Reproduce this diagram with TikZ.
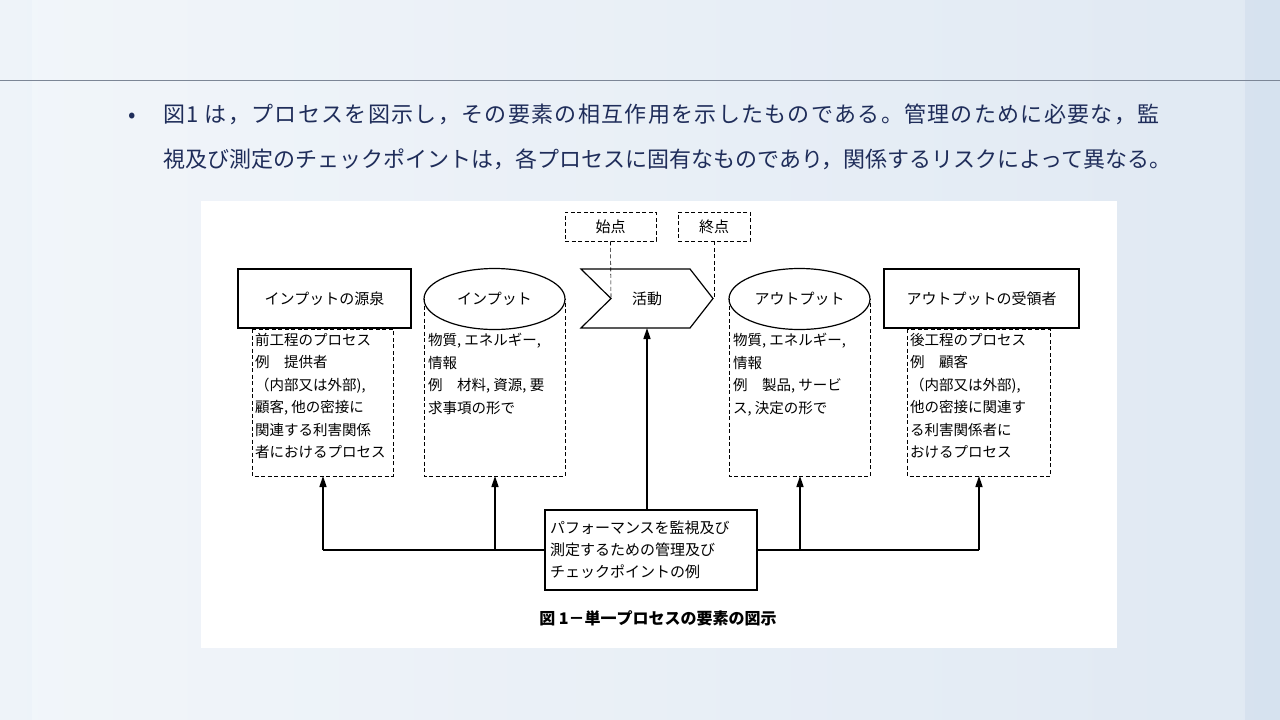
\documentclass[tikz,border=0pt]{standalone}
\usepackage{fontspec}
\setmainfont{Noto Sans CJK JP}
\usetikzlibrary{shapes.geometric,arrows.meta}
\definecolor{bgl}{HTML}{EEF3F9}
\definecolor{bgr}{HTML}{D6E2EF}
\definecolor{navy}{HTML}{1F2D5A}
\definecolor{rule}{HTML}{7C8696}
\begin{document}
\begin{tikzpicture}[x=1pt,y=-1pt,
  thickbox/.style={draw,line width=1.8pt},
  dbox/.style={draw,dashed,line width=0.6pt,dash pattern=on 4pt off 2.5pt},
  lbl/.style={font=\fontsize{15}{15}\selectfont,inner sep=0},
  coltext/.style={font=\fontsize{14.5}{22.5}\selectfont,align=left,anchor=north west,inner sep=0},
  up/.style={-{Triangle[length=11pt,width=7pt]},line width=1.6pt},
  conn/.style={line width=1.6pt}]
\useasboundingbox (0,0) rectangle (1280,720);
\shade[left color=bgl, right color=bgr] (0,0) rectangle (1280,720);
\fill[white,opacity=0.25] (32,0) rectangle (1245,720);
\draw[rule,line width=1pt] (0,80) -- (1280,80);
\node[text=navy,font=\fontsize{22}{22}\selectfont,anchor=west,inner sep=0] (bul) at (128,118) {•};
\node[text=navy,font=\fontsize{22}{45}\selectfont,anchor=north west,align=left,inner sep=0] (title) at (163,104) {{\addfontfeatures{LetterSpace=6}図1 は，プロセスを図示し，その要素の相互作用を示したものである。管理のために必要な，監}\\視及び測定のチェックポイントは，各プロセスに固有なものであり，関係するリスクによって異なる。};
\fill[white] (201,201) rectangle (1117,648);
% top boxes
\node[dbox,lbl,minimum width=91pt,minimum height=29pt] (start) at (610.5,226.5) {始点};
\node[dbox,lbl,minimum width=72pt,minimum height=29pt] (end) at (714,226.5) {終点};
% main row
\node[thickbox,lbl,minimum width=173pt,minimum height=59pt] (src) at (324.5,298.5) {インプットの源泉};
\node[draw,line width=1.2pt,ellipse,lbl,minimum width=141pt,minimum height=61pt] (in) at (494.5,299) {インプット};
\draw[line width=1.2pt] (581,269) -- (690,269) -- (713,298.5) -- (690,328) -- (581,328) -- (611,298.5) -- cycle;
\node[lbl] (act) at (647,298.5) {活動};
\coordinate (notch) at (611,298.5);
\coordinate (tip) at (713,298.5);
\node[draw,line width=1.2pt,ellipse,lbl,minimum width=141pt,minimum height=61pt] (out) at (799.5,299) {アウトプット};
\node[thickbox,lbl,minimum width=195pt,minimum height=59pt] (rcv) at (981.5,298.5) {アウトプットの受領者};
\draw[dbox] (start.south) -- (notch);
\draw[dbox] (end.south) -- (end.south |- tip) -- (tip);
% dashed columns
\draw[dbox] (252,329) rectangle (393,476);
\draw[dbox] (424,299) -- (424,476) -- (565,476) -- (565,299);
\draw[dbox] (729,299) -- (729,476) -- (870,476) -- (870,299);
\draw[dbox] (907,329) rectangle (1050,476);
\coordinate (c1) at (323,476); \coordinate (c2) at (495,476);
\coordinate (c4) at (800,476); \coordinate (c5) at (979,476);
\node[coltext] (t1) at (255,333) {前工程のプロセス\\例\quad 提供者\\（内部又は外部),\\顧客, 他の密接に\\関連する利害関係\\者におけるプロセス};
\node[coltext] (t2) at (428,333) {物質, エネルギー,\\情報\\例\quad 材料, 資源, 要\\求事項の形で};
\node[coltext] (t4) at (733,333) {物質, エネルギー,\\情報\\例\quad 製品, サービ\\ス, 決定の形で};
\node[coltext] (t5) at (910,333) {後工程のプロセス\\例\quad 顧客\\（内部又は外部),\\他の密接に関連す\\る利害関係者に\\おけるプロセス};
% center box
\node[thickbox,font=\fontsize{15}{22}\selectfont,align=left,minimum width=212pt,minimum height=80pt,text width=202pt] (mon) at (651,550) {パフォーマンスを監視及び\\測定するための管理及び\\チェックポイントの例};
\coordinate (l1) at (323,550); \coordinate (l5) at (979,550);
\draw[conn] (l1) -- (mon.west);
\draw[conn] (mon.east) -- (l5);
\draw[up] (l1) -- (c1);
\draw[up] (l5) -- (c5);
\draw[up] (495,550) -- (c2);
\draw[up] (800,550) -- (c4);
\draw[up] (mon.north -| act) -- (act |- 328,328);
\node[font=\bfseries\fontsize{16}{16}\selectfont,inner sep=0] (cap) at (658,618) {図 1－単一プロセスの要素の図示};
\end{tikzpicture}
\end{document}
